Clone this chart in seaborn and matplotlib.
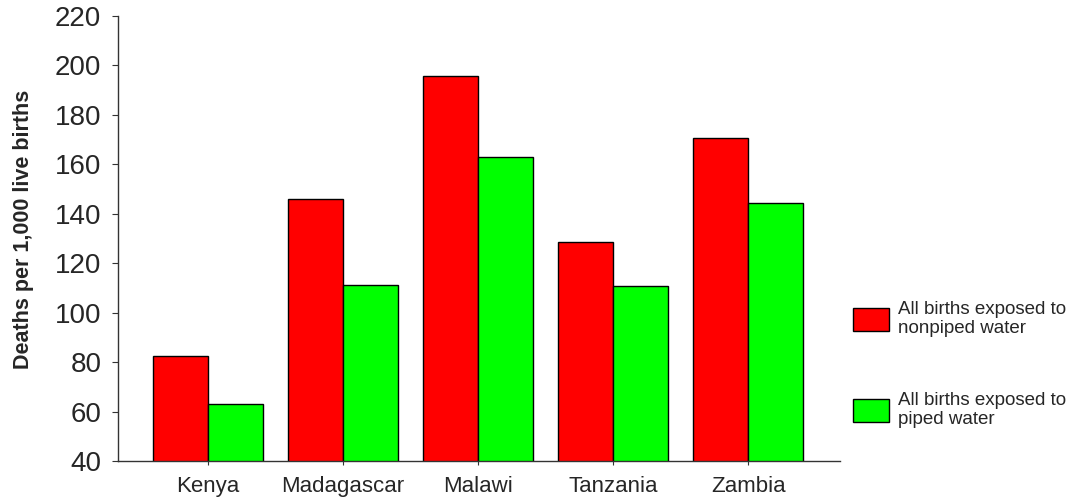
import pandas as pd
import matplotlib.pyplot as plt
import seaborn as sns

sns.set_style("white")
plt.rcParams['font.family'] = ['Liberation Sans', 'DejaVu Sans']

countries = ['Kenya', 'Madagascar', 'Malawi', 'Tanzania', 'Zambia']
nonpiped = [82.6, 145.8, 195.9, 128.7, 170.6]
piped = [63.2, 111.3, 162.8, 110.7, 144.2]
series_names = ['All births exposed to\nnonpiped water', 'All births exposed to\npiped water']

df = pd.DataFrame({
    'country': countries * 2,
    'deaths': nonpiped + piped,
    'group': [series_names[0]] * len(countries) + [series_names[1]] * len(countries),
})

fig = plt.figure(figsize=(10.73, 4.98), dpi=100)
ax = fig.add_axes([0.110, 0.074, 0.673, 0.894])

sns.barplot(data=df, x='country', y='deaths', hue='group', hue_order=series_names,
            palette=['#ff0000', '#00ff00'], saturation=1, width=0.815,
            edgecolor='black', linewidth=1, ax=ax, errorbar=None)

ax.set_ylim(40, 220)
ax.set_yticks(range(40, 221, 20))
ax.set_xlim(-0.667, 4.68)
ax.set_xlabel('')
ax.set_ylabel('Deaths per 1,000 live births', fontsize=15.5, fontweight='bold')
ax.yaxis.set_label_coords(-0.117, 0.521)
ax.tick_params(axis='y', labelsize=20, length=4, color='#333333', direction='out', left=True, pad=8)
ax.tick_params(axis='x', labelsize=16, length=3, color='#333333', direction='out', bottom=True, pad=8)

sns.despine(ax=ax)
for s in ['left', 'bottom']:
    ax.spines[s].set_color('#333333')
    ax.spines[s].set_linewidth(1)

ax.legend(loc='center left', bbox_to_anchor=(1.018, 0.217), frameon=False, fontsize=13.5,
          borderpad=0, borderaxespad=0,
          handlelength=1.92, handleheight=1.55, labelspacing=2.9, handletextpad=0.48)

plt.savefig('out.png', dpi=100)
plt.close()
